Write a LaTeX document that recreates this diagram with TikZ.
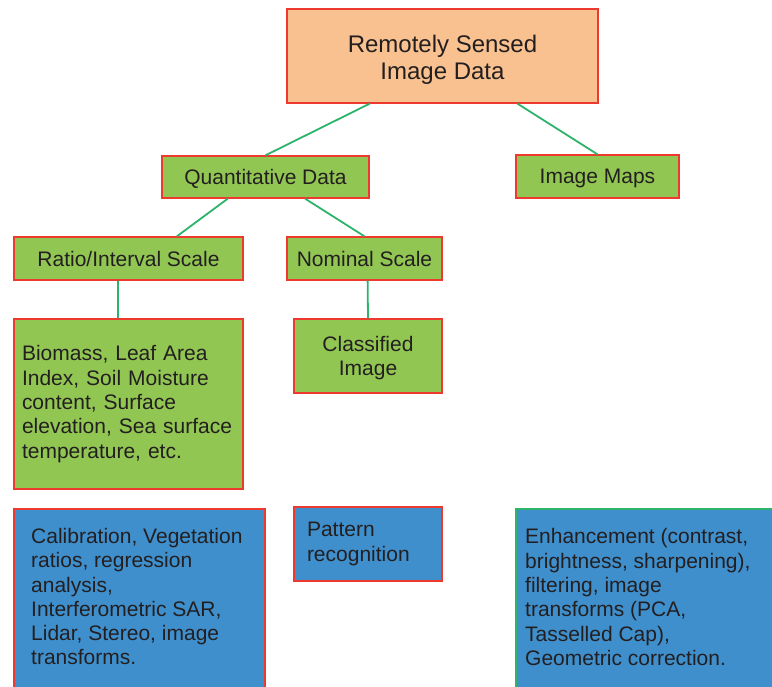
\documentclass[tikz,border=0pt]{standalone}
\usepackage{fontspec}
\setmainfont{Liberation Sans}
\usetikzlibrary{calc}
\definecolor{boxred}{HTML}{EE3A2E}
\definecolor{linegreen}{HTML}{2DB36A}
\definecolor{orangefill}{HTML}{F8C18F}
\definecolor{greenfill}{HTML}{92C653}
\definecolor{bluefill}{HTML}{3F8FCD}
\definecolor{txt}{HTML}{231F20}
\tikzset{
  box/.style={draw=boxred, line width=1.3pt, rectangle, inner sep=0pt, text=txt,
    font=\fontsize{21}{24.3}\selectfont},
  orangebox/.style={box, fill=orangefill, align=center, text height=53pt,
    font=\fontsize{24}{27.5}\selectfont},
  greenbox/.style={box, fill=greenfill, align=center},
  bluebox/.style={box, fill=bluefill},
  plaintext/.style={inner sep=0pt, text=txt, align=left,
    font=\fontsize{21}{24.3}\selectfont},
  conn/.style={draw=linegreen, line width=1.8pt}
}
\begin{document}
\begin{tikzpicture}[x=1pt,y=1pt]
\useasboundingbox (0,0) rectangle (772,687);
\clip (0,0) rectangle (772,687);
\fill[white] (0,0) rectangle (772,687);

\node[orangebox, minimum width=311pt, minimum height=94pt] (top) at (442.5,631) {Remotely Sensed\\Image Data};
\node[greenbox, text depth=0pt, minimum width=207pt, minimum height=42pt] (quant) at (265.5,510) {Quantitative Data};
\node[greenbox, text depth=0pt, minimum width=163pt, minimum height=43pt] (maps) at (597.5,510.5) {Image Maps};
\node[greenbox, text depth=0pt, minimum width=229pt, minimum height=43pt] (ratio) at (128.5,428.5) {Ratio/Interval Scale};
\node[greenbox, text depth=0pt, minimum width=155pt, minimum height=43pt] (nominal) at (364.5,428.5) {Nominal Scale};
\node[greenbox, minimum width=229pt, minimum height=170pt, text width=213pt, align=left] (biomass) at (128.5,283)
  {Biomass, Leaf Area\\Index, Soil Moisture\\content, Surface\\elevation, Sea surface\\temperature, etc.};
\node[greenbox, text depth=0pt, minimum width=148pt, minimum height=74pt] (classified) at (368,331) {Classified\\Image};

\node[bluebox, minimum width=251pt, minimum height=191pt] (calib) at (139.5,82.5) {};
\node[plaintext, anchor=north west] (calibtext) at (31,159)
  {Calibration, Vegetation\\ratios, regression\\analysis,\\Interferometric SAR,\\Lidar, Stereo, image\\transforms.};
\node[bluebox, minimum width=148pt, minimum height=74pt, text width=122pt, align=left] (pattern) at (368,143)
  {Pattern\\recognition};
\node[bluebox, draw=linegreen, minimum width=274pt, minimum height=191pt] (enh) at (653,82.5) {};
\node[plaintext, anchor=north west] (enhtext) at (525,158.5)
  {Enhancement (contrast,\\brightness, sharpening),\\filtering, image\\transforms (PCA,\\Tasselled Cap),\\Geometric correction.};

\draw[conn] ($(top.south west)!0.267!(top.south east)$) -- (quant.north);
\draw[conn] ($(top.south west)!0.74!(top.south east)$) -- (maps.north);
\draw[conn] ($(quant.south west)!0.319!(quant.south east)$) -- ($(ratio.north west)!0.71!(ratio.north east)$);
\draw[conn] ($(quant.south west)!0.69!(quant.south east)$) -- (nominal.north);
\draw[conn] ($(ratio.south west)!0.454!(ratio.south east)$) -- ($(biomass.north west)!0.454!(biomass.north east)$);
\draw[conn] ($(nominal.south west)!0.52!(nominal.south east)$) -- (classified.north);
\end{tikzpicture}
\end{document}
